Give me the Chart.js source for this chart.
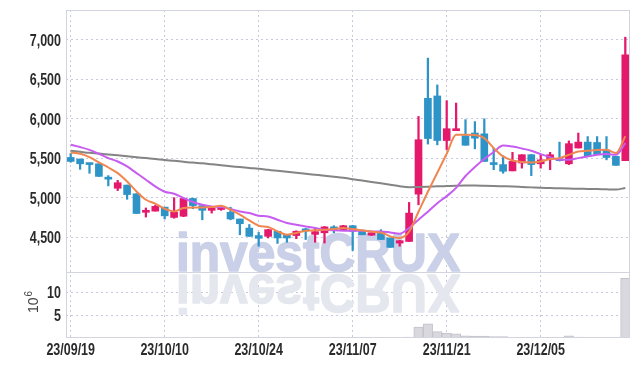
<!DOCTYPE html>
<html><head><meta charset="utf-8">
<script src="https://cdn.jsdelivr.net/npm/chart.js@4/dist/chart.umd.min.js"></script>
<style>html,body{margin:0;padding:0;background:#fff;overflow:hidden}#wrap{width:639px;height:366px;position:relative}</style>
</head><body><div id="wrap"><canvas id="c" width="639" height="366"></canvas></div>
<script>
const dates = ['23/09/19','23/09/20','23/09/21','23/09/22','23/09/25','23/09/26','23/09/27','23/10/04','23/10/05','23/10/06',
'23/10/10','23/10/11','23/10/12','23/10/13','23/10/16','23/10/17','23/10/18','23/10/19','23/10/20','23/10/23',
'23/10/24','23/10/25','23/10/26','23/10/27','23/10/30','23/10/31','23/11/01','23/11/02','23/11/03','23/11/06',
'23/11/07','23/11/08','23/11/09','23/11/10','23/11/13','23/11/14','23/11/15','23/11/16','23/11/17','23/11/20',
'23/11/21','23/11/22','23/11/23','23/11/24','23/11/27','23/11/28','23/11/29','23/11/30','23/12/01','23/12/04',
'23/12/05','23/12/06','23/12/07','23/12/08','23/12/11','23/12/12','23/12/13','23/12/14','23/12/15','23/12/18'];

const opens = [5510,5490,5430,5430,5250,5120,5160,5050,4815,4830, 4880,4750,4765,4990,4900,4840,4850,4815,4730,4615,
 4520,4510,4575,4530,4520,4605,4535,4555,4630,4585, 4645,4585,4525,4560,4490,4425,4445,5045,6260,6290,
 5725,5850,5785,5820,5810,5440,5420,5340,5440,5545, 5430,5490,5495,5430,5630,5705,5700,5605,5525,5470];
const highs = [5560,5490,5430,5430,5280,5220,5160,5050,4870,4905, 4880,5000,4995,4995,4900,4870,4890,4880,4730,4660,
 4560,4600,4575,4530,4580,4610,4615,4635,4645,4650, 4650,4590,4560,4595,4490,4460,4940,6030,6770,6430,
 6230,6200,5990,5965,6000,5630,5530,5575,5545,5550, 5545,5575,5705,5720,5820,5775,5775,5775,5525,7035];
const lows = [5450,5360,5310,5270,5150,5090,4980,4800,4755,4830, 4730,4740,4760,4860,4720,4805,4840,4720,4530,4510,
 4385,4490,4420,4435,4480,4470,4435,4425,4555,4585, 4330,4530,4520,4470,4370,4385,4445,4910,5680,5670,
 5610,5850,5665,5620,5460,5355,5310,5340,5375,5280, 5375,5355,5465,5420,5630,5525,5545,5480,5410,5470];
const closes = [5460,5430,5420,5270,5235,5190,5040,4800,4840,4890, 4770,4815,4990,4900,4840,4865,4880,4730,4670,4510,
 4485,4595,4490,4490,4575,4580,4570,4630,4585,4645, 4575,4530,4555,4470,4370,4455,4805,5735,5750,5725,
 5875,5875,5665,5755,5460,5420,5335,5460,5545,5420, 5480,5545,5470,5685,5705,5525,5545,5510,5410,6810];
// volume in millions of shares
const volumes = [0.12,0.1,0.09,0.11,0.08,0.07,0.1,0.15,0.09,0.07, 0.08,0.12,0.14,0.09,0.08,0.06,0.06,0.08,0.09,0.1,
 0.09,0.07,0.08,0.07,0.06,0.08,0.07,0.09,0.06,0.06, 0.07,0.06,0.05,0.07,0.1,0.08,0.2,2.4,3.1,1.4,
 1.1,0.9,0.5,0.4,0.4,0.3,0.3,0.15,0.12,0.15, 0.1,0.12,0.1,0.5,0.2,0.12,0.1,0.1,0.1,13.1];
const maShort = [5573,5557,5515,5447,5383,5312,5206,5079,4974,4924, 4860,4826,4869,4877,4877,4882,4898,4848,4784,4712,
 4645,4629,4573,4531,4553,4582,4586,4595,4603,4616, 4603,4586,4569,4560,4510,4490,4569,4822,5076,5316,
 5557,5797,5797,5794,5756,5629,5523,5472,5452,5447, 5459,5490,5502,5544,5586,5595,5604,5607,5566,5780];
const maMid = [5671,5642,5607,5557,5502,5459,5396,5312,5228,5143, 5076,5050,4996,4945,4911,4890,4882,4857,4826,4806,
 4772,4763,4721,4679,4658,4636,4616,4595,4586,4582, 4582,4582,4573,4573,4560,4544,4616,4721,4822,4930,
 5020,5125,5275,5390,5490,5580,5662,5649,5624,5595, 5553,5515,5481,5481,5502,5523,5544,5553,5544,5692];
const maLong = [5595,5582,5569,5559,5548,5537,5525,5514,5502,5491, 5478,5468,5456,5445,5437,5424,5411,5400,5388,5377,
 5367,5354,5341,5329,5316,5304,5291,5278,5266,5253, 5234,5218,5200,5182,5164,5145,5133,5135,5139,5144,
 5148,5152,5154,5154,5152,5149,5145,5141,5136,5131, 5126,5123,5119,5116,5114,5111,5109,5106,5104,5123];
const priceTicks = [4500,5000,5500,6000,6500,7000];
const volumeTicks = [5,10];
const volumeTitle = ['10','6'];
const watermark = 'investCRUX';

const UP = '#e4196b', DOWN = '#2e94c8';
const GRID = '#c6cadc', FRAME = '#d2d5e0', TXT = '#2b2b2b';
const LBL_FONT = "bold 16px 'Liberation Sans', Arial, sans-serif";
const LBL_SX = 0.78;
const colors = closes.map((c,i)=> c>=opens[i] ? UP : DOWN);

function drawLabel(ctx, text, x, y, align){
  ctx.save();
  ctx.font = LBL_FONT;
  const w = ctx.measureText(text).width * LBL_SX;
  let left = align === 'right' ? x - w : (align === 'center' ? x - w/2 : x);
  ctx.translate(left, y); ctx.scale(LBL_SX, 1);
  ctx.textAlign = 'left'; ctx.textBaseline = 'alphabetic';
  ctx.fillText(text, 0, 0);
  ctx.restore();
}

const decor = {
  id:'decor',
  beforeDatasetsDraw(chart){
    const ctx = chart.ctx, ca = chart.chartArea;
    ctx.save();
    ctx.beginPath(); ctx.rect(ca.left, ca.top, ca.right-ca.left, ca.bottom-ca.top); ctx.clip();
    ctx.font = "bold 54px 'Liberation Sans', Arial, sans-serif";
    ctx.lineJoin = 'round';
    const w = ctx.measureText(watermark).width, sx = 284 / w;
    ctx.save(); ctx.translate(176, 271); ctx.scale(sx, 1);
    ctx.fillStyle = '#cad0e7'; ctx.strokeStyle = '#cad0e7'; ctx.lineWidth = 1.6;
    ctx.fillText(watermark, 0, 0); ctx.strokeText(watermark, 0, 0); ctx.restore();
    ctx.save(); ctx.translate(176, 275); ctx.scale(sx, -1);
    ctx.fillStyle = '#e5e7ef'; ctx.strokeStyle = '#e5e7ef'; ctx.lineWidth = 1.6;
    ctx.fillText(watermark, 0, 0); ctx.strokeText(watermark, 0, 0); ctx.restore();
    ctx.restore();
  },
  afterDraw(chart){
    const ctx = chart.ctx, ca = chart.chartArea, yv = chart.scales.yv, y = chart.scales.y, x = chart.scales.x;
    ctx.save();
    ctx.strokeStyle = FRAME; ctx.lineWidth = 1;
    ctx.strokeRect(Math.round(ca.left)+0.5, Math.round(ca.top)+0.5, Math.round(ca.right-ca.left)-1, Math.round(ca.bottom-ca.top)-1);
    ctx.beginPath(); ctx.moveTo(ca.left, Math.round(yv.top)+0.5); ctx.lineTo(ca.right, Math.round(yv.top)+0.5); ctx.stroke();
    // axis labels
    ctx.fillStyle = TXT;
    priceTicks.forEach(v => drawLabel(ctx, v.toLocaleString('en-US'), 61, y.getPixelForValue(v) + 6, 'right'));
    volumeTicks.forEach(v => drawLabel(ctx, String(v), 61, yv.getPixelForValue(v) + 6, 'right'));
    dates.forEach((d,i) => { if (i % 10 === 0) drawLabel(ctx, d, x.getPixelForValue(i), 355, 'center'); });
    // volume unit title
    ctx.translate(38, 313); ctx.rotate(-Math.PI/2);
    ctx.fillStyle = '#444'; ctx.textBaseline = 'alphabetic'; ctx.textAlign = 'left';
    ctx.font = "14px 'Liberation Sans', Arial, sans-serif"; ctx.fillText(volumeTitle[0], 0, 0);
    const tw = ctx.measureText(volumeTitle[0]).width;
    ctx.font = "10px 'Liberation Sans', Arial, sans-serif"; ctx.fillText(volumeTitle[1], tw + 1, -6);
    ctx.restore();
  }
};

new Chart(document.getElementById('c'), {
  type: 'bar',
  data: {
    labels: dates,
    datasets: [
      {type:'line', data: maShort, borderColor:'#f08650', borderWidth:2, pointRadius:0, cubicInterpolationMode:'monotone', yAxisID:'y', order:0},
      {type:'line', data: maMid, borderColor:'#c75cf0', borderWidth:2, pointRadius:0, cubicInterpolationMode:'monotone', yAxisID:'y', order:0},
      {type:'line', data: maLong, borderColor:'#848484', borderWidth:2, pointRadius:0, cubicInterpolationMode:'monotone', yAxisID:'y', order:0},
      {data: opens.map((o,i)=>[o, closes[i]]), backgroundColor: colors, barThickness:7, minBarLength:2, grouped:false, yAxisID:'y', order:1},
      {data: lows.map((l,i)=>[l, highs[i]]), backgroundColor: colors, barThickness:1.6, grouped:false, yAxisID:'y', order:2},
      {data: volumes, backgroundColor:'#d8d8de', borderColor:'#c2c2ca', borderWidth:1, barPercentage:1, categoryPercentage:1, grouped:false, yAxisID:'yv', order:3}
    ]
  },
  options: {
    responsive:false, animation:false, devicePixelRatio:1,
    layout:{padding:{top:10, right:9, left:0, bottom:0}},
    plugins:{legend:{display:false}, tooltip:{enabled:false}},
    scales: {
      x: {
        type:'category', offset:true,
        grid:{offset:false, drawTicks:false, color: c => (c.index % 10 === 0) ? GRID : 'rgba(0,0,0,0)'},
        border:{display:false, dash:[2,3]},
        ticks:{autoSkip:false, maxRotation:0, minRotation:0, display:false},
        afterFit: s => { s.height = 28; }
      },
      yv: {
        type:'linear', position:'left', stack:'panes', stackWeight:66, min:0, max:14.5,
        afterBuildTicks: s => { s.ticks = volumeTicks.map(v=>({value:v})); },
        grid:{color:GRID, drawTicks:false}, border:{display:false, dash:[2,3]},
        ticks:{display:false},
        afterFit: s => { s.width = 66; }
      },
      y: {
        type:'linear', position:'left', stack:'panes', stackWeight:262, min:4058, max:7380,
        afterBuildTicks: s => { s.ticks = priceTicks.map(v=>({value:v})); },
        grid:{color:GRID, drawTicks:false}, border:{display:false, dash:[2,3]},
        ticks:{display:false},
        afterFit: s => { s.width = 66; }
      }
    }
  },
  plugins:[decor]
});
</script></body></html>
